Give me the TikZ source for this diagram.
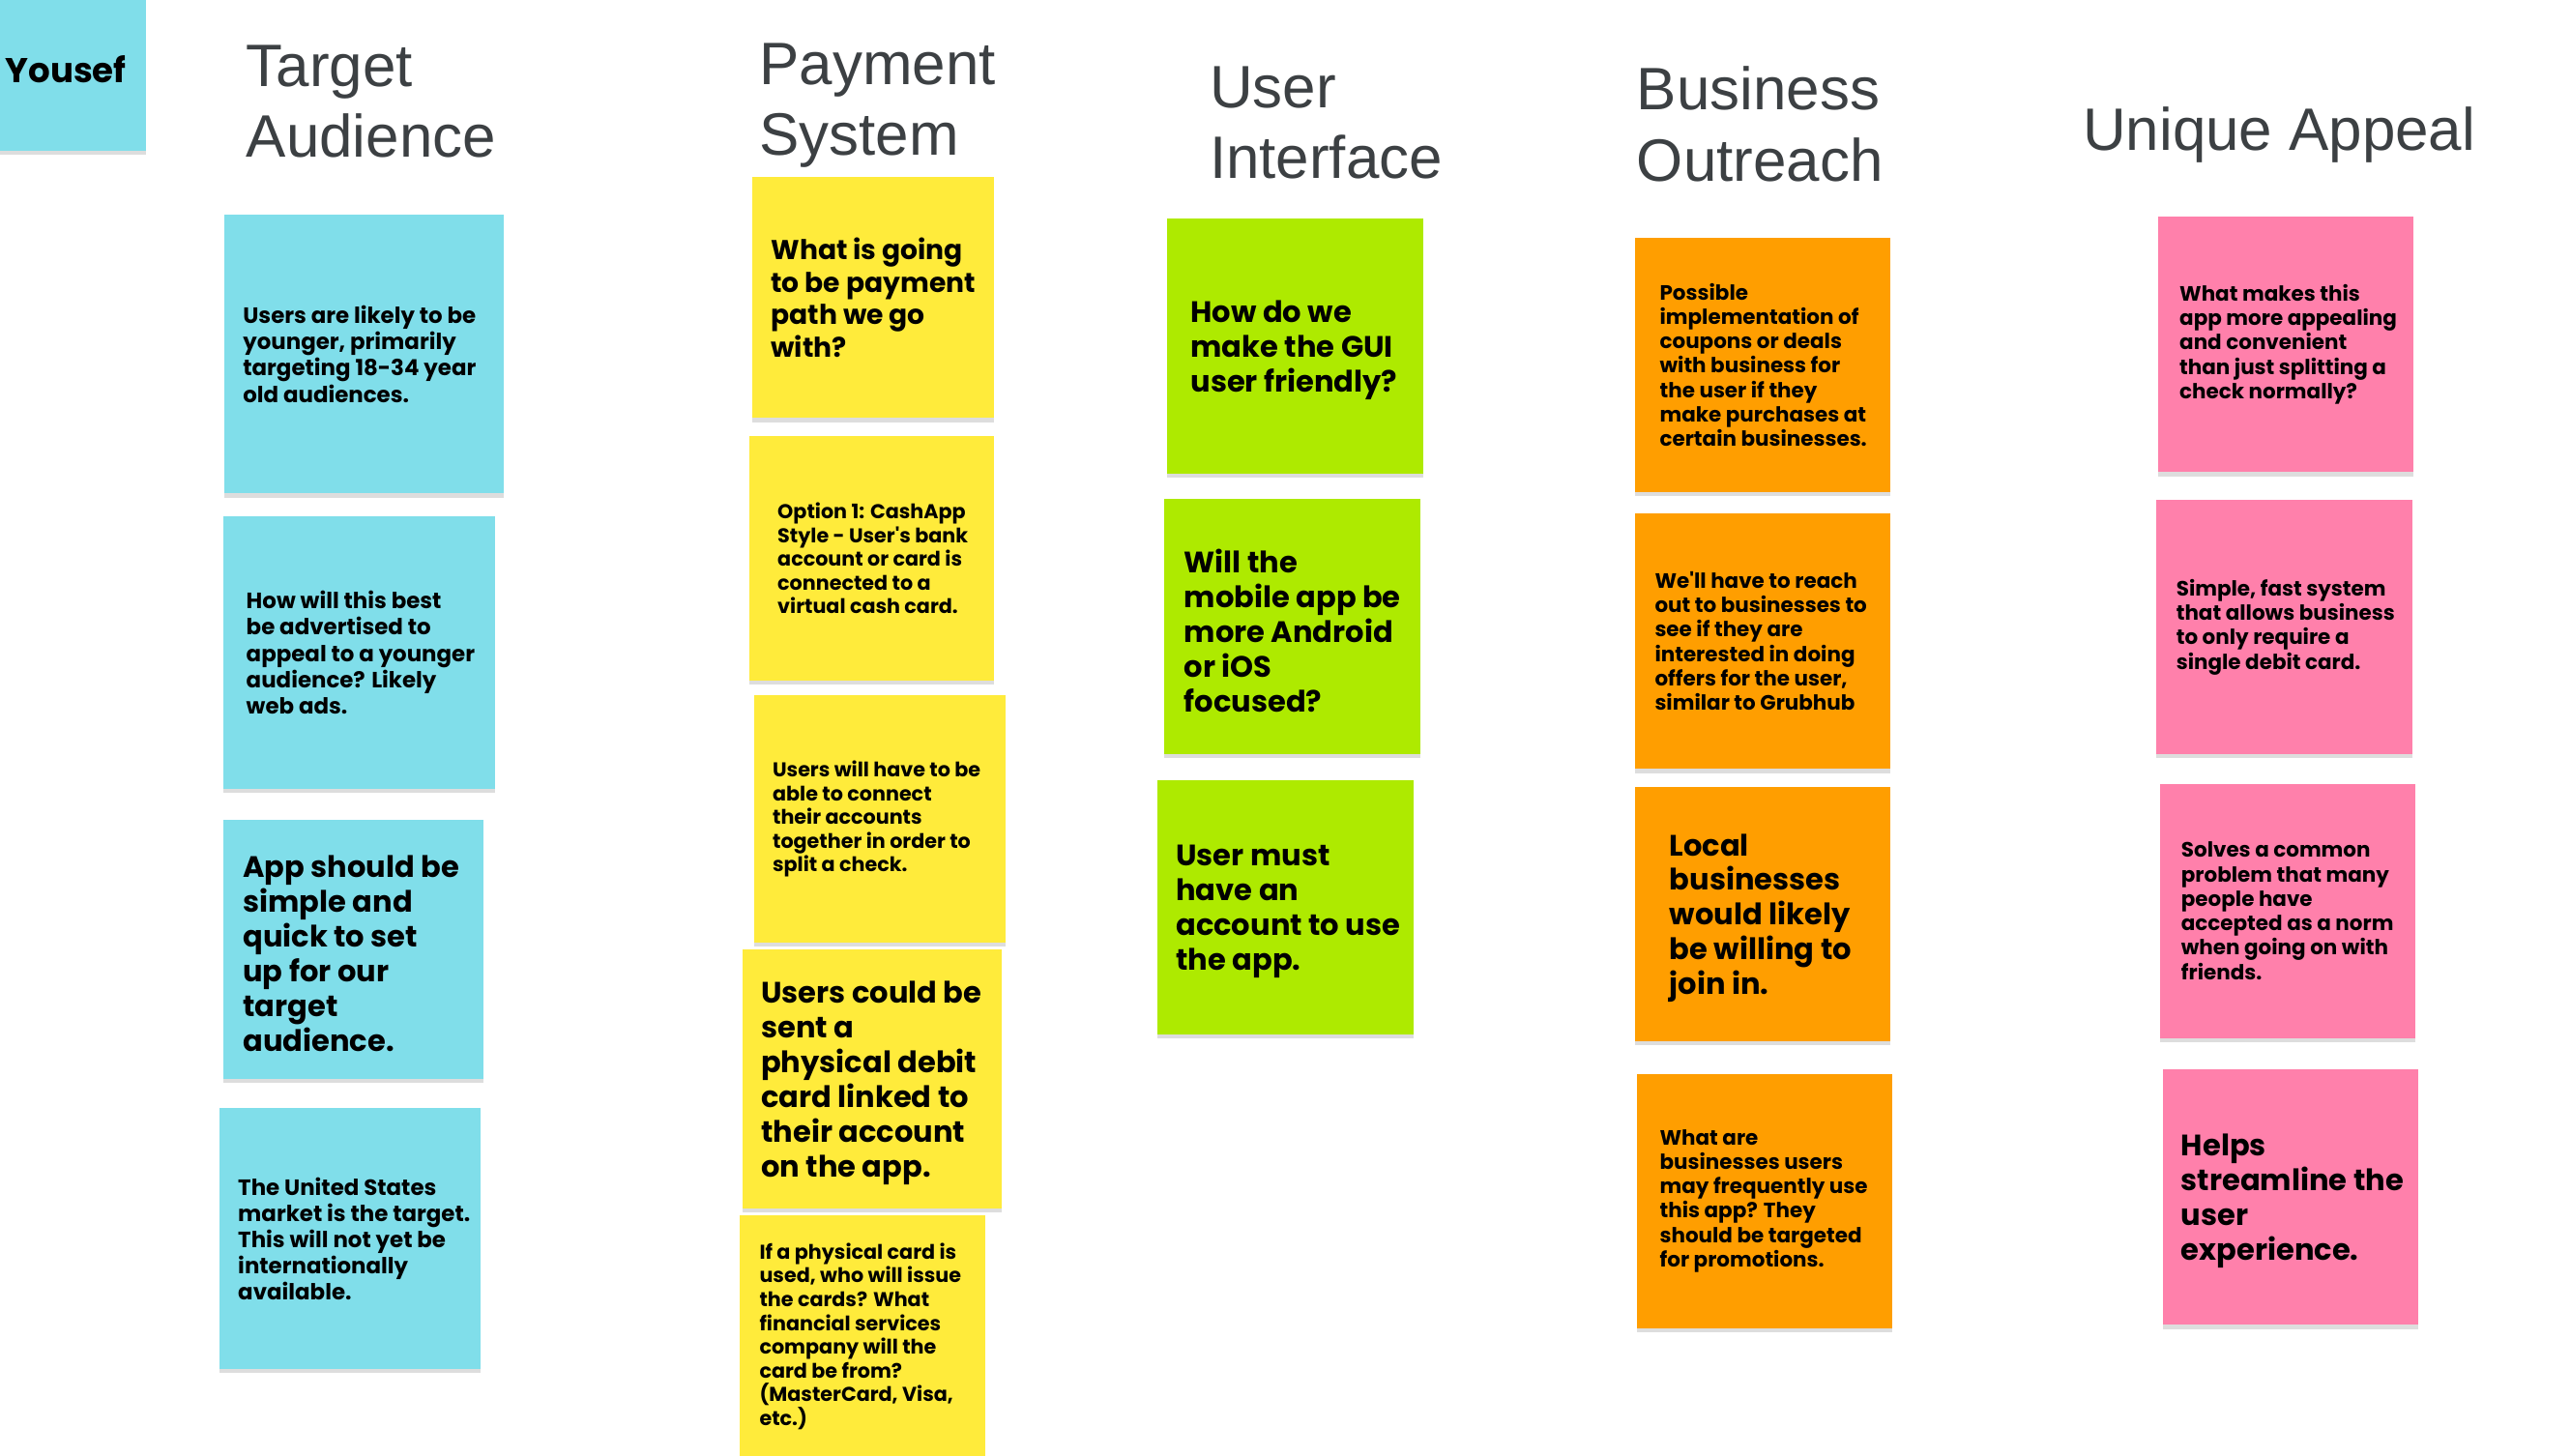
\documentclass[tikz,border=0pt]{standalone}
\usepackage{fontspec}
\setmainfont{Poppins}[Ligatures=TeXOff]
\newfontfamily\titlefont{Liberation Sans}
\usetikzlibrary{shadows}
\definecolor{ncyan}{HTML}{80DEEA}
\definecolor{nyellow}{HTML}{FFEB3B}
\definecolor{ngreen}{HTML}{AEEA00}
\definecolor{norange}{HTML}{FF9E00}
\definecolor{npink}{HTML}{FF80AB}
\definecolor{ttl}{HTML}{3C4043}
\tikzset{
  stickybox/.style={draw=none, inner sep=0pt, outer sep=0pt,
    drop shadow={opacity=0.22, shadow xshift=0pt, shadow yshift=-2.5pt, fill=black!60}},
  stickytext/.style={inner sep=0pt, align=left, text=black},
  ftiny/.style={font=\bfseries\fontsize{12.2}{14.5}\selectfont},
  fsmall/.style={font=\bfseries\fontsize{12.65}{14.9}\selectfont},
  fmid/.style={font=\bfseries\fontsize{13.5}{16}\selectfont},
  fq/.style={font=\bfseries\fontsize{16.6}{20}\selectfont},
  fbig/.style={font=\bfseries\fontsize{18}{21.2}\selectfont, yshift=-2.5pt},
  titletext/.style={inner sep=0pt, align=left, text=ttl,
    font=\titlefont\fontsize{36.5}{43.3}\selectfont},
}
\newcommand\sticky[9]{%
  \node[stickybox, fill=#6, minimum width={#4-#2}, minimum height={#5-#3}, anchor=north west] (#1) at (#2,#3) {};
  \node[stickytext, #8, anchor=west] (#1t) at (#7,{(#3+#5)/2}) {#9};
}
\begin{document}
\begin{tikzpicture}[x=1pt,y=-1pt]
\useasboundingbox[fill=white] (0,0) rectangle (1567.9,888);
% Yousef
\node[stickybox, fill=ncyan, minimum width=89, minimum height=92, anchor=north west] (yousef) at (0,0) {};
\node[stickytext, font=\bfseries\fontsize{21}{24}\selectfont, anchor=west] (youseft) at (3,42) {Yousef};
% titles (anchor on baseline of last line)
\node[titletext, anchor=base west] (t1) at (150,95.8) {Target\\Audience};
\node[titletext, anchor=base west] (t2) at (463,94.8) {Payment\\System};
\node[titletext, anchor=base west] (t3) at (737.5,108.9) {User\\Interface};
\node[titletext, anchor=base west] (t4) at (998,110.4) {Business\\Outreach};
\node[titletext, anchor=base west] (t5) at (1270,91.7) {Unique Appeal};
% column 1
\sticky{a1}{137}{131}{307}{301}{ncyan}{148}{fmid}{Users are likely to be\\younger, primarily\\targeting 18-34 year\\old audiences.}
\sticky{a2}{136}{315}{302}{481}{ncyan}{150}{fmid}{How will this best\\be advertised to\\appeal to a younger\\audience? Likely\\web ads.}
\sticky{a3}{136}{500}{295}{658}{ncyan}{148}{fbig}{App should be\\simple and\\quick to set\\up for our\\target\\audience.}
\sticky{a4}{134}{676}{293}{835}{ncyan}{145}{fmid}{The United States\\market is the target.\\This will not yet be\\internationally\\available.}
% column 2
\sticky{b1}{459}{108}{606}{255}{nyellow}{470}{fq}{What is going\\to be payment\\path we go\\with?}
\sticky{b2}{457}{266}{606}{415}{nyellow}{474}{ftiny}{Option 1: CashApp\\Style - User's bank\\account or card is\\connected to a\\virtual cash card.}
\sticky{b3}{460}{424}{613}{575}{nyellow}{471}{ftiny}{Users will have to be\\able to connect\\their accounts\\together in order to\\split a check.}
\sticky{b4}{453}{579}{611}{737}{nyellow}{464}{fbig}{Users could be\\sent a\\physical debit\\card linked to\\their account\\on the app.}
\sticky{b5}{451}{741}{601}{889}{nyellow}{463}{ftiny}{If a physical card is\\used, who will issue\\the cards? What\\financial services\\company will the\\card be from?\\(MasterCard, Visa,\\etc.)}
% column 3
\sticky{c1}{712}{133}{868}{289}{ngreen}{726}{fbig}{How do we\\make the GUI\\user friendly?}
\sticky{c2}{710}{304}{866}{460}{ngreen}{722}{fbig}{Will the\\mobile app be\\more Android\\or iOS\\focused?}
\sticky{c3}{706}{476}{862}{631}{ngreen}{717}{fbig}{User must\\have an\\account to use\\the app.}
% column 4
\sticky{d1}{997}{145}{1153}{300}{norange}{1012}{fsmall}{Possible\\implementation of\\coupons or deals\\with business for\\the user if they\\make purchases at\\certain businesses.}
\sticky{d2}{997}{313}{1153}{469}{norange}{1009}{fsmall}{We'll have to reach\\out to businesses to\\see if they are\\interested in doing\\offers for the user,\\similar to Grubhub}
\sticky{d3}{997}{480}{1153}{635}{norange}{1018}{fbig}{Local\\businesses\\would likely\\be willing to\\join in.}
\sticky{d4}{998}{655}{1154}{810}{norange}{1012}{fsmall}{What are\\businesses users\\may frequently use\\this app? They\\should be targeted\\for promotions.}
% column 5
\sticky{e1}{1316}{132}{1472}{288}{npink}{1329}{fsmall}{What makes this\\app more appealing\\and convenient\\than just splitting a\\check normally?}
\sticky{e2}{1315}{305}{1471}{460}{npink}{1327}{fsmall}{Simple, fast system\\that allows business\\to only require a\\single debit card.}
\sticky{e3}{1317}{478}{1473}{633}{npink}{1330}{fsmall}{Solves a common\\problem that many\\people have\\accepted as a norm\\when going on with\\friends.}
\sticky{e4}{1319}{652}{1475}{808}{npink}{1330}{fbig}{Helps\\streamline the\\user\\experience.}
\end{tikzpicture}
\end{document}
